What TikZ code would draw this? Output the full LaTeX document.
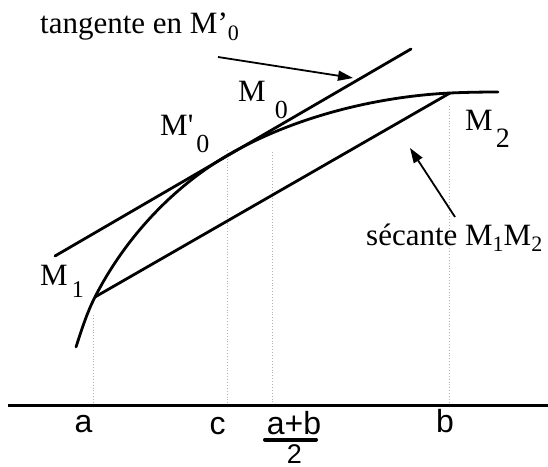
\documentclass[tikz,border=0pt]{standalone}
\usepackage{fontspec}
\setmainfont{Liberation Serif}
\newfontfamily\axisfont{Liberation Sans}
\usetikzlibrary{arrows.meta}
\newcommand{\fsz}[1]{\fontsize{#1}{#1}\selectfont}
\newcommand{\lowr}[3]{\raisebox{-#1pt}{\fsz{#2}#3}}
\begin{document}
\begin{tikzpicture}[x=1pt,y=-1pt,
  curve/.style={line width=2.8pt, line cap=round},
  guide/.style={draw=gray!60, dotted, line width=0.9pt},
  pointer/.style={line width=1.8pt, -{Triangle[length=15pt,width=10pt]}},
  lbl/.style={inner sep=0pt, anchor=base west, font=\fsz{31}},
  axlbl/.style={inner sep=0pt, anchor=base, font=\axisfont\fsz{32}}]
\useasboundingbox (0,0) rectangle (548,466);
% points
\coordinate (P0) at (76,347);
\coordinate (M1) at (95,297);
\coordinate (Mp) at (228,155);
\coordinate (M2) at (450,93);
\coordinate (P4) at (498,92);
\coordinate (T1) at (55,256);
\coordinate (T2) at (411,49);
\coordinate (AxL) at (8,405);
\coordinate (AxR) at (548,405);
\coordinate (ga1) at (93,315);
\coordinate (ga2) at (93,405);
\coordinate (gc1) at (227,150);
\coordinate (gc2) at (227,405);
\coordinate (gm1) at (272,152);
\coordinate (gm2) at (272,405);
\coordinate (gb1) at (449,106);
\coordinate (gb2) at (449,405);
\coordinate (A1s) at (218,57);
\coordinate (A1e) at (353,78);
\coordinate (A2s) at (455,217);
\coordinate (A2e) at (410,148);
\coordinate (B1) at (265,439.5);
\coordinate (B2) at (316,439.5);
% guides
\draw[guide] (ga1) -- (ga2);
\draw[guide] (gc1) -- (gc2);
\draw[guide] (gm1) -- (gm2);
\draw[guide] (gb1) -- (gb2);
% axis
\draw[line width=3pt] (AxL) -- (AxR);
% curve
\draw[curve] (P0) .. controls (81.6,329.9) and (86.8,313) .. (M1)
  .. controls (124.5,239.1) and (171.8,187.6) .. (Mp)
  .. controls (292.9,117.4) and (375,96.7) .. (M2)
  .. controls (466,92.3) and (482,92) .. (P4);
% tangent and secant
\draw[curve] (T1) -- (T2);
\draw[curve] (M1) -- (M2);
% pointers
\draw[pointer] (A1s) -- (A1e);
\draw[pointer] (A2s) -- (A2e);
% labels
\node[lbl] (tan) at (40,33) {tangente en M’\lowr{7}{22}{0}};
\node[lbl] (m0) at (238,101) {M\hspace{9pt}\lowr{17}{26}{0}};
\node[lbl] (mp0) at (160,135) {M\textquotesingle\hspace{3pt}\lowr{17}{26}{0}};
\node[lbl] (m1) at (40,285) {M\hspace{4pt}\lowr{12}{24}{1}};
\node[lbl] (m2) at (465,130) {M\hspace{3pt}\lowr{17}{28}{2}};
\node[lbl] (sec) at (366,245) {sécante M\lowr{6}{22}{1}M\lowr{6}{22}{2}};
% axis labels
\node[axlbl] (la) at (83.5,432) {a};
\node[axlbl] (lc) at (217.5,434) {c};
\node[axlbl] (lab) at (294,434) {a+b};
\draw[line width=4pt, line cap=round] (B1) -- (B2);
\node[axlbl, font=\axisfont\fsz{27}] (l2) at (294.5,463) {2};
\node[axlbl] (lb) at (445,432) {b};
\end{tikzpicture}
\end{document}
